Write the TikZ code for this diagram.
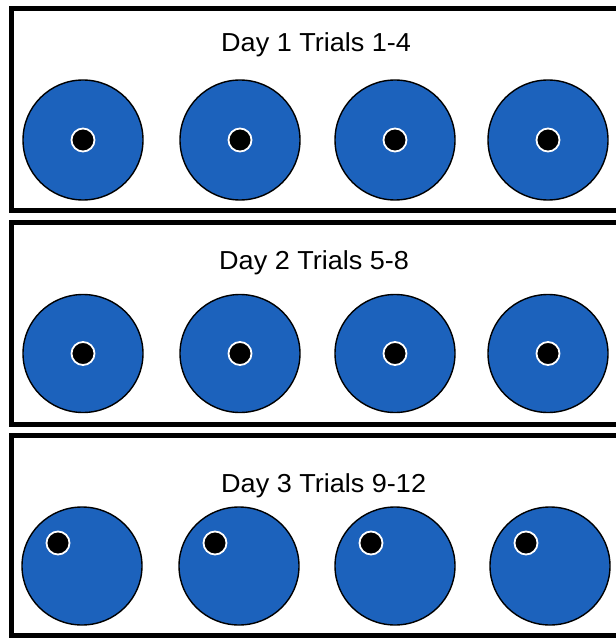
\documentclass[tikz,border=0pt]{standalone}
\usepackage{fontspec}
\setmainfont{Liberation Sans}
\definecolor{poolblue}{RGB}{28,98,188}
\tikzset{
  panel/.style={draw=black,line width=5pt},
  pool/.style={draw=black,line width=1.4pt,fill=poolblue},
  platform/.style={draw=white,line width=1.8pt,fill=black},
  title/.style={anchor=base west,inner sep=0pt,font=\fontsize{26}{30}\selectfont,xscale=1.04}
}
\begin{document}
\begin{tikzpicture}[x=1pt,y=-1pt]
\useasboundingbox (0,0) rectangle (615,639);
\fill[white] (0,0) rectangle (615,639);
% panels
\draw[panel] (11,8.5) rectangle (640,210.5);
\draw[panel] (11,222.5) rectangle (640,424.5);
\draw[panel] (11,435.5) rectangle (640,635.5);
% titles
\node[title] (t1) at (221,52) {Day 1 Trials 1-4};
\node[title] (t2) at (219,269) {Day 2 Trials 5-8};
\node[title] (t3) at (221,492) {Day 3 Trials 9-12};
% day 1
\foreach \x in {83,240,395,548}{
  \draw[pool] (\x,140) ellipse [x radius=60,y radius=60];
  \draw[platform] (\x,140) circle [radius=11.5];
}
% day 2
\foreach \x in {83,240,395,548}{
  \draw[pool] (\x,353.5) ellipse [x radius=60,y radius=59];
  \draw[platform] (\x,353.5) circle [radius=11.5];
}
% day 3
\foreach \x in {82,239,395,550}{
  \draw[pool] (\x,566) ellipse [x radius=60,y radius=59];
  \draw[platform] (\x-24,543) circle [radius=11.5];
}
\end{tikzpicture}
\end{document}
